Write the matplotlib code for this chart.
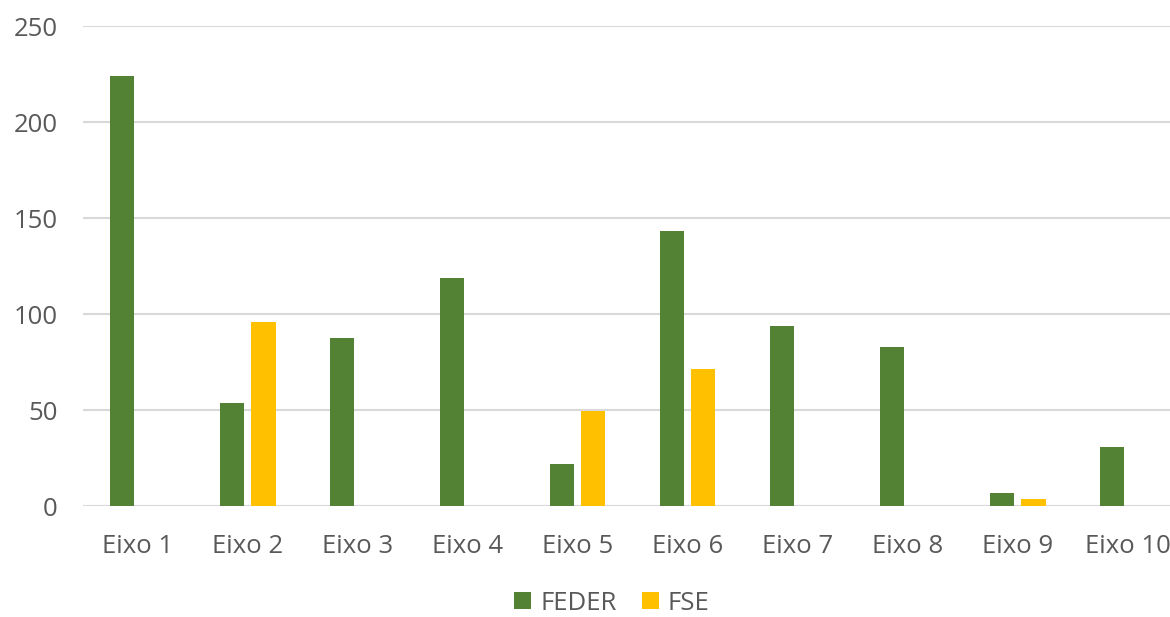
import numpy as np
import matplotlib.pyplot as plt

categorias = ["Eixo 1", "Eixo 2", "Eixo 3", "Eixo 4", "Eixo 5",
              "Eixo 6", "Eixo 7", "Eixo 8", "Eixo 9", "Eixo 10"]
feder = [224, 53.6, 87.5, 118.8, 21.9, 143.2, 93.7, 82.8, 6.8, 30.7]
fse = [0, 95.8, 0, 0, 49.5, 71.4, 0, 0, 3.6, 0]
yticks = [0, 50, 100, 150, 200, 250]

plt.rcParams['font.family'] = ['Open Sans', 'DejaVu Sans']

fig = plt.figure(figsize=(11.7, 6.17), dpi=100)
ax = fig.add_axes([83/1170, 111/617, 1100/1170, 480/617])

x = np.arange(len(categorias))
w = 0.22
ax.bar(x - 0.145, feder, w, color="#548235", label="FEDER", zorder=3)
ax.bar(x + 0.14, fse, w, color="#FFC000", label="FSE", zorder=3)

ax.set_xlim(-0.5, len(categorias) - 0.5)
ax.set_ylim(0, 250)
ax.set_yticks(yticks)
ax.set_xticks(x)
ax.set_xticklabels(categorias)
ax.yaxis.grid(True, color="#d9d9d9", linewidth=1.5, zorder=0)
ax.tick_params(axis="both", length=0, labelsize=18.5, colors="#595959")
ax.tick_params(axis="y", pad=18)
ax.tick_params(axis="x", pad=20)
for s in ax.spines.values():
    s.set_visible(False)

fig.legend(loc="center", bbox_to_anchor=(612/1170, 1 - 603/617), ncol=2,
           frameon=False, fontsize=18.5, handlelength=0.65, handleheight=0.65,
           columnspacing=1.0, handletextpad=0.35, labelcolor="#595959")

fig.savefig("out.png", dpi=100)
